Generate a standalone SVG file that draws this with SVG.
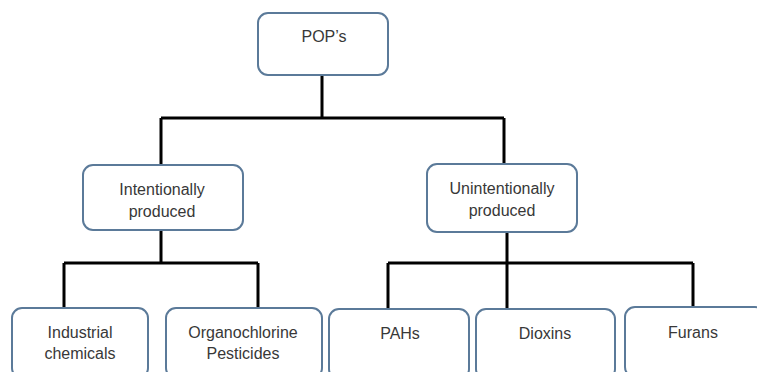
<svg xmlns="http://www.w3.org/2000/svg" width="757" height="372" viewBox="0 0 757 372">
<style>
.box{fill:#ffffff;stroke:#5b7a99;stroke-width:2}
.t{font-family:"Liberation Sans",Arial,sans-serif;font-size:16px;fill:#383838;text-anchor:middle}
.c{fill:none;stroke:#000;stroke-width:3;stroke-linejoin:miter}
</style>
<rect width="757" height="372" fill="#ffffff"/>
<g id="connectors">
<path class="c" d="M322 75V118M161 118H504M161 118V165M504 118V164"/>
<path class="c" d="M161 230V263M64 263H258M64 263V308M258 263V308"/>
<path class="c" d="M507 232V308M388 263H693M388 263V309M693 263V307"/>
</g>
<g id="pops"><rect class="box" x="258" y="13" width="130" height="62" rx="10"/><text class="t" x="324" y="42">POP’s</text></g>
<g id="intentional"><rect class="box" x="83" y="165" width="160" height="65" rx="10"/><text class="t" x="162" y="195">Intentionally</text><text class="t" x="162" y="217">produced</text></g>
<g id="unintentional"><rect class="box" x="427" y="164" width="150" height="68" rx="10"/><text class="t" x="502" y="194">Unintentionally</text><text class="t" x="502" y="216">produced</text></g>
<g id="industrial"><rect class="box" x="12" y="308" width="136" height="70" rx="10"/><text class="t" x="80" y="338">Industrial</text><text class="t" x="80" y="359">chemicals</text></g>
<g id="organochlorine"><rect class="box" x="166" y="308" width="156" height="70" rx="10"/><text class="t" x="243" y="338">Organochlorine</text><text class="t" x="243" y="359">Pesticides</text></g>
<g id="pahs"><rect class="box" x="329" y="309" width="140" height="70" rx="10"/><text class="t" x="400" y="339">PAHs</text></g>
<g id="dioxins"><rect class="box" x="476" y="309" width="139" height="70" rx="10"/><text class="t" x="545" y="339">Dioxins</text></g>
<g id="furans"><rect class="box" x="625" y="307" width="140" height="70" rx="10"/><text class="t" x="693" y="338">Furans</text></g>
</svg>
